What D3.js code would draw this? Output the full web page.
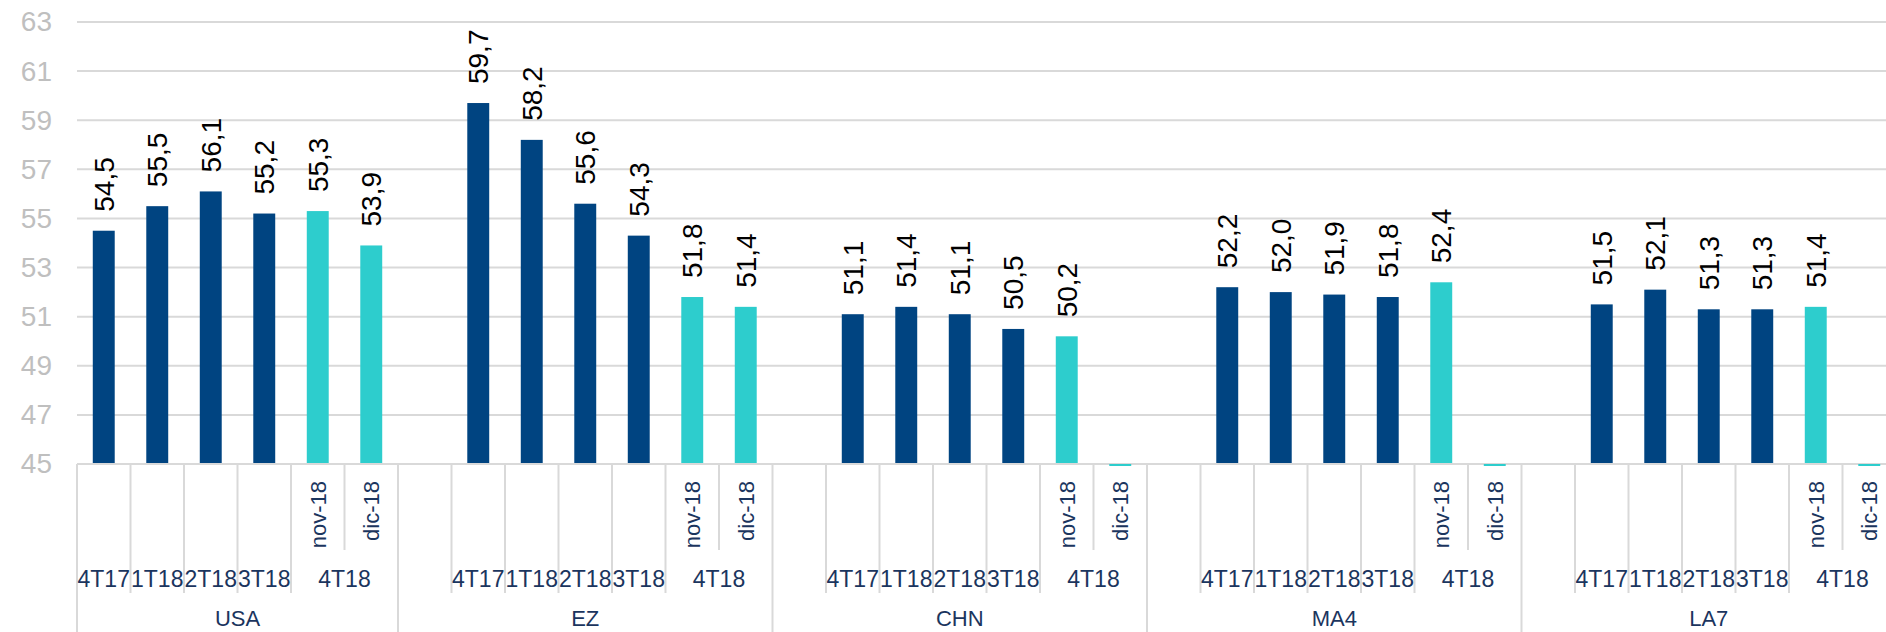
<!DOCTYPE html>
<html>
<head>
<meta charset="utf-8">
<script src="https://cdn.jsdelivr.net/npm/d3@7"></script>
<style>
  body { margin: 0; background: #fff; }
  svg { display: block; font-family: "Liberation Sans", Arial, sans-serif; }
</style>
</head>
<body>
<script>
// ---------------- data ----------------
var groups   = ["USA", "EZ", "CHN", "MA4", "LA7"];
var quarters = ["4T17", "1T18", "2T18", "3T18"];
var lastQuarter = "4T18";
var months   = ["nov-18", "dic-18"];

// 4 quarters then nov-18, dic-18 (null = no value)
var usaValues = [54.5, 55.5, 56.1, 55.2, 55.3, 53.9];
var ezValues  = [59.7, 58.2, 55.6, 54.3, 51.8, 51.4];
var chnValues = [51.1, 51.4, 51.1, 50.5, 50.2, null];
var ma4Values = [52.2, 52.0, 51.9, 51.8, 52.4, null];
var la7Values = [51.5, 52.1, 51.3, 51.3, 51.4, null];
var seriesValues = [usaValues, ezValues, chnValues, ma4Values, la7Values];

var yTicks = [45, 47, 49, 51, 53, 55, 57, 59, 61, 63];

// ---------------- layout ----------------
var W = 1886, H = 632;
var plotLeft = 77, plotRight = 1896, plotTop = 22, base = 464;
var navy = "#004481", teal = "#2dcdcd", gridCol = "#d9d9d9", labelCol = "#1b355e";

// build the flat list of category slots
var slots = [];
groups.forEach(function(g, gi) {
    if (gi > 0) slots.push({ key: g + "-blank", group: g, blank: true, first: true });
    quarters.forEach(function(q, qi) {
        slots.push({ key: g + "-" + q, group: g, quarter: q, value: seriesValues[gi][qi], first: gi === 0 && qi === 0 });
    });
    months.forEach(function(m, mi) {
        slots.push({ key: g + "-" + m, group: g, quarter: lastQuarter, month: m, value: seriesValues[gi][4 + mi] });
    });
});

var x = d3.scaleBand().domain(slots.map(function(d) { return d.key; })).range([plotLeft, plotRight]);
var y = d3.scaleLinear().domain([45, 63]).range([base, plotTop]);
var bw = x.bandwidth() * 0.41;
var fmt = function(v) { return d3.format(".1f")(v).replace(".", ","); };

var svg = d3.select("body").append("svg").attr("width", W).attr("height", H);

// ---------------- grid + y axis ----------------
svg.append("g").selectAll("line").data(yTicks).enter().append("line")
    .attr("x1", plotLeft).attr("x2", W)
    .attr("y1", function(d) { return y(d); }).attr("y2", function(d) { return y(d); })
    .attr("stroke", gridCol).attr("stroke-width", 2);

var yAxis = svg.append("g")
    .attr("transform", "translate(" + plotLeft + ",0)")
    .call(d3.axisLeft(y).tickValues(yTicks).tickSize(0).tickPadding(25));
yAxis.select(".domain").remove();
yAxis.selectAll("text")
    .attr("fill", "#bfbfbf")
    .style("font-size", "28px")
    .style("font-family", "'Liberation Sans', Arial, sans-serif");

// ---------------- bars ----------------
var barSlots = slots.filter(function(d) { return !d.blank; });

svg.append("g").selectAll("rect").data(barSlots.filter(function(d) { return d.value != null; }))
    .enter().append("rect")
    .attr("x", function(d) { return x(d.key) + (x.bandwidth() - bw) / 2; })
    .attr("width", bw)
    .attr("y", function(d) { return y(d.value); })
    .attr("height", function(d) { return y(45) - y(d.value); })
    .attr("fill", function(d) { return d.month ? teal : navy; });

// value labels
svg.append("g").selectAll("text").data(barSlots.filter(function(d) { return d.value != null; }))
    .enter().append("text")
    .attr("transform", function(d) {
        return "translate(" + (x(d.key) + x.bandwidth() / 2) + "," + (y(d.value) - 19) + ") rotate(-90)";
    })
    .attr("dy", "0.36em")
    .attr("fill", "#000")
    .style("font-size", "28px")
    .text(function(d) { return fmt(d.value); });

// ---------------- category axis ----------------
svg.append("line")
    .attr("x1", plotLeft).attr("x2", W).attr("y1", base).attr("y2", base)
    .attr("stroke", gridCol).attr("stroke-width", 2);

var sep = svg.append("g");
slots.forEach(function(d) {
    var len = d.first ? H : (d.month === months[1] ? 550 : 593);
    sep.append("line")
        .attr("x1", x(d.key)).attr("x2", x(d.key))
        .attr("y1", base).attr("y2", len)
        .attr("stroke", gridCol).attr("stroke-width", 2);
});

// the dic-18 slots with no value get a thin line at the base, drawn above the axis line
svg.append("g").selectAll("rect").data(barSlots.filter(function(d) { return d.value == null; }))
    .enter().append("rect")
    .attr("x", function(d) { return x(d.key) + (x.bandwidth() - bw) / 2; })
    .attr("width", bw)
    .attr("y", y(45))
    .attr("height", 2)
    .attr("fill", teal);

// month labels (level 1)
svg.append("g").selectAll("text").data(slots.filter(function(d) { return d.month; }))
    .enter().append("text")
    .attr("transform", function(d) {
        return "translate(" + (x(d.key) + x.bandwidth() / 2) + ",481) rotate(-90)";
    })
    .attr("dy", "0.36em")
    .attr("text-anchor", "end")
    .attr("fill", labelCol)
    .style("font-size", "22px")
    .text(function(d) { return d.month; });

// quarter labels (level 2)
var qLabels = [];
groups.forEach(function(g) {
    quarters.forEach(function(q) {
        qLabels.push({ text: q, cx: x(g + "-" + q) + x.bandwidth() / 2 });
    });
    qLabels.push({ text: lastQuarter, cx: x(g + "-" + months[0]) + x.bandwidth() });
});
svg.append("g").selectAll("text").data(qLabels).enter().append("text")
    .attr("x", function(d) { return d.cx; })
    .attr("y", 587)
    .attr("text-anchor", "middle")
    .attr("fill", labelCol)
    .style("font-size", "23px")
    .text(function(d) { return d.text; });

// group labels (level 3)
svg.append("g").selectAll("text").data(groups).enter().append("text")
    .attr("x", function(g) {
        var s = slots.filter(function(d) { return d.group === g; });
        return (x(s[0].key) + x(s[s.length - 1].key) + x.bandwidth()) / 2;
    })
    .attr("y", 626)
    .attr("text-anchor", "middle")
    .attr("fill", labelCol)
    .style("font-size", "22px")
    .text(function(g) { return g; });
</script>
</body>
</html>
